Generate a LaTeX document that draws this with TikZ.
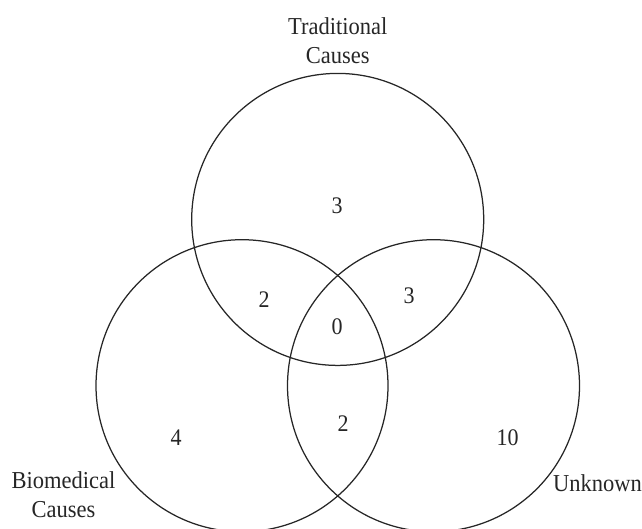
\documentclass[tikz,border=0pt]{standalone}
\usepackage{fontspec}
\setmainfont{Liberation Serif}
\begin{document}
\begin{tikzpicture}[x=1pt,y=-1pt,
  setcircle/.style={draw=black!85, line width=1.25pt, circle, minimum size=292pt, inner sep=0pt},
  lbl/.style={font=\fontsize{22.5}{27}\selectfont, text=black!85, inner sep=0pt, align=center, yscale=1.08},
  num/.style={font=\fontsize{22}{27}\selectfont, text=black!85, inner sep=0pt, yscale=1.08}]
\useasboundingbox (0,0) rectangle (642,528);
\clip (0,0) rectangle (642,528);
\node[setcircle] (trad) at (337.7,219.4) {};
\node[setcircle] (bio) at (242,385.7) {};
\node[setcircle] (unk) at (433.5,385.7) {};
\node[lbl] (tradlbl) at (337.7,40.5) {Traditional\\Causes};
\node[lbl] (biolbl) at (63.4,494.5) {Biomedical\\Causes};
\node[lbl, anchor=west] (unklbl) at (553,483) {Unknown};
\node[num] (n1) at (337,206) {3};
\node[num] (n2) at (264,300) {2};
\node[num] (n3) at (409,296) {3};
\node[num] (n4) at (337,327) {0};
\node[num] (n5) at (343,424) {2};
\node[num] (n6) at (176,438) {4};
\node[num] (n7) at (507.6,438) {10};
\end{tikzpicture}
\end{document}
